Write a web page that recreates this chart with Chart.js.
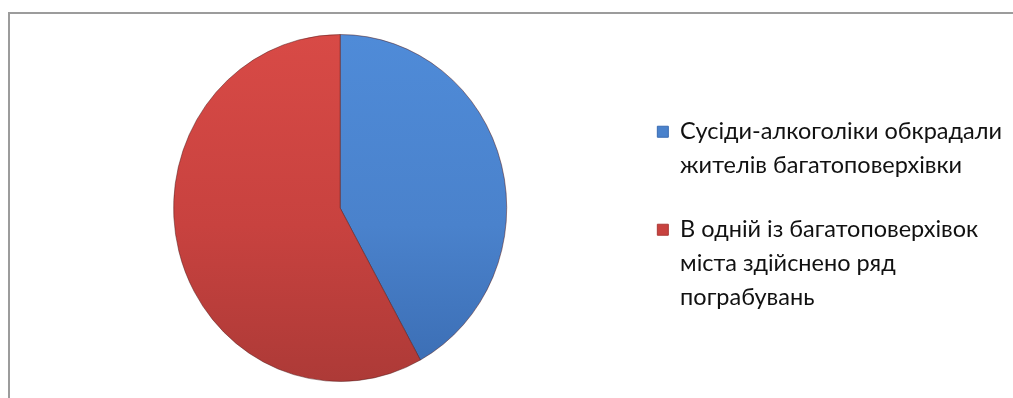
<!DOCTYPE html>
<html>
<head>
<meta charset="utf-8">
<script src="https://cdn.jsdelivr.net/npm/chart.js@4/dist/chart.umd.min.js"></script>
<style>
  html, body { margin: 0; padding: 0; background: #fff; overflow: hidden; width: 1013px; height: 398px; }
  #frame { position: absolute; left: 8px; top: 12px; width: 1100px; height: 500px; border: 2px solid #9c9c9c; }
  #wrap { position: absolute; left: 10px; top: 14px; width: 1002px; height: 384px; }
</style>
</head>
<body>
<div id="frame"></div>
<div id="wrap"><canvas id="pie-chart"></canvas></div>
<script>
var labels = [
  ['Сусіди-алкоголіки обкрадали', 'жителів багатоповерхівки'],
  ['В одній із багатоповерхівок', 'міста здійснено ряд', 'пограбувань']
];
var values = [42, 58];
var topColors = ['#4f8bd8', '#d84a46'];
var bottomColors = ['#3a6cb2', '#ad3a37'];
var boxColors = ['#4a82cc', '#c8423f'];
var textColor = '#111';

function sliceFill(context) {
  var i = context.dataIndex;
  var area = context.chart.chartArea;
  if (!area) return boxColors[i];
  var g = context.chart.ctx.createLinearGradient(0, area.top, 0, area.bottom);
  g.addColorStop(0, topColors[i]);
  g.addColorStop(0.55, boxColors[i]);
  g.addColorStop(1, bottomColors[i]);
  return g;
}

// squash the pie a little horizontally
var squash = {
  id: 'squash',
  beforeDatasetsDraw: function(chart) {
    var arc = chart.getDatasetMeta(0).data[0];
    var ctx = chart.ctx;
    ctx.save();
    ctx.translate(arc.x, 0);
    ctx.scale(0.96, 1);
    ctx.translate(-arc.x, 0);
  },
  afterDatasetsDraw: function(chart) {
    chart.ctx.restore();
  }
};

var pieChart = new Chart(document.getElementById('pie-chart'), {
  type: 'pie',
  data: {
    labels: labels,
    datasets: [{
      data: values,
      backgroundColor: sliceFill,
      borderColor: 'rgba(80,25,25,0.5)',
      borderWidth: 1
    }]
  },
  options: {
    responsive: true,
    maintainAspectRatio: false,
    animation: false,
    layout: { padding: { left: 43, top: 20, bottom: 16, right: 0 } },
    plugins: {
      tooltip: { enabled: false },
      legend: {
        position: 'right',
        // empty title only pushes the items down a bit
        title: { display: true, text: '', font: { size: 4, lineHeight: 1 }, padding: { top: 20, bottom: 0 } },
        labels: {
          boxWidth: 11,
          boxHeight: 11,
          padding: 30,
          color: textColor,
          font: { family: 'Lato', size: 23.5, lineHeight: 1.447 },
          generateLabels: function(chart) {
            return labels.map(function(t, i) {
              return {
                text: t,
                fillStyle: boxColors[i],
                strokeStyle: bottomColors[i],
                fontColor: textColor,
                lineWidth: 1,
                index: i
              };
            });
          }
        }
      }
    }
  },
  plugins: [squash]
});
</script>
</body>
</html>
